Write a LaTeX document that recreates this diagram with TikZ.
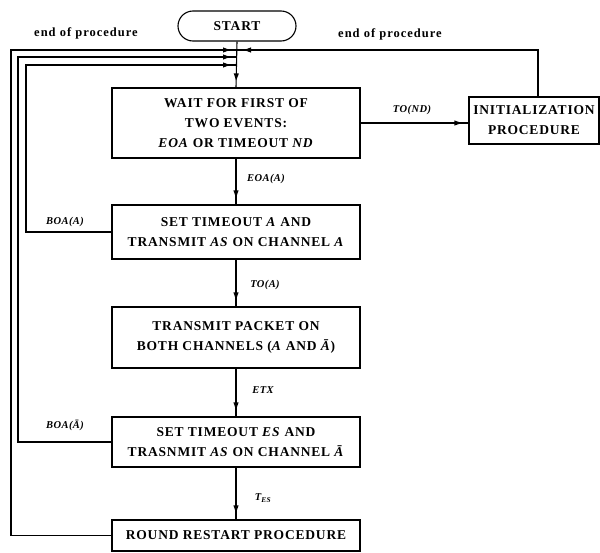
\documentclass[tikz,border=0pt]{standalone}
\usepackage{fontspec}
\setmainfont{Liberation Serif}
\newfontfamily\boxfont[LetterSpace=6]{Liberation Serif}
\newfontfamily\notefont[LetterSpace=8]{Liberation Serif}
\newfontfamily\lblfont[LetterSpace=4]{Liberation Serif}
\usetikzlibrary{decorations.markings}

\tikzset{
  wire/.style={line width=1.1pt},
  flow/.style={wire, postaction={decorate},
    decoration={markings, mark=at position -7pt with
      {\fill (0,0) -- (-7,2.6) -- (-7,-2.6) -- cycle;}}},
  box/.style={draw, line width=1.1pt, minimum width=248pt, align=center, inner sep=0pt,
    font=\boxfont\bfseries\fontsize{13.5}{20}\selectfont},
  startbox/.style={draw, line width=1.1pt, rounded corners=15pt, minimum width=118pt,
    minimum height=30pt, font=\boxfont\bfseries\fontsize{13.5}{15}\selectfont},
  lbl/.style={font=\lblfont\bfseries\itshape\fontsize{10.5}{12}\selectfont},
  note/.style={font=\notefont\bfseries\fontsize{12.5}{14}\selectfont},
}

\begin{document}
\begin{tikzpicture}[x=1pt,y=-1pt]
\useasboundingbox (0,0) rectangle (600,552);

% process boxes
\node[startbox] (start) at (237,26) {START};
\node[box, minimum height=70pt] (wait) at (236,123)
  {WAIT FOR FIRST OF\\TWO EVENTS:\\\textit{EOA} OR TIMEOUT \textit{ND}};
\node[box, minimum height=54pt] (seta) at (236,232)
  {SET TIMEOUT \textit{A} AND\\TRANSMIT \textit{AS} ON CHANNEL \textit{A}};
\node[box, minimum height=61pt] (pkt) at (236,337.5)
  {TRANSMIT PACKET ON\\BOTH CHANNELS (\textit{A} AND \textit{Ā})};
\node[box, minimum height=50pt] (setes) at (236,442)
  {SET TIMEOUT \textit{ES} AND\\TRASNMIT \textit{AS} ON CHANNEL \textit{Ā}};
\node[box, minimum height=31pt] (round) at (236,535.5)
  {ROUND RESTART PROCEDURE};
\node[box, minimum width=130pt, minimum height=47pt] (init) at (534,120.5)
  {INITIALIZATION\\PROCEDURE};

% junction points on the entry line
\coordinate (jA) at (237,50);
\coordinate (jB) at (237,57);
\coordinate (jC) at (237,65);
\coordinate (itop) at ([xshift=4pt]init.north);

% main flow
\draw[flow] (start.south) -- (wait.north);
\draw[flow] (wait.south) -- (seta.north);
\draw[flow] (seta.south) -- (pkt.north);
\draw[flow] (pkt.south) -- (setes.north);
\draw[flow] (setes.south) -- (round.north);
\draw[flow] (wait.east) -- (wait.east -| init.west);

% return loops
\draw[flow] (round.west) -| (11,50) -- (jA);
\draw[flow] (setes.west) -| (18,57) -- (jB);
\draw[flow] (seta.west) -| (26,65) -- (jC);
\draw[flow] (itop) |- (jA);

% labels
\node[note] (eopl) at (86,33) {end of procedure};
\node[note] (eopr) at (390,34) {end of procedure};
\node[lbl] (lnd) at (412,110) {TO(ND)};
\node[lbl] (leoa) at (266,179) {EOA(A)};
\node[lbl] (lta) at (265,285) {TO(A)};
\node[lbl] (letx) at (263,390) {ETX};
\node[lbl] (ltes) at (263,498) {T\textsubscript{ES}};
\node[lbl] (lboa) at (65,222) {BOA(A)};
\node[lbl] (lboab) at (65,425) {BOA(Ā)};
\end{tikzpicture}
\end{document}
